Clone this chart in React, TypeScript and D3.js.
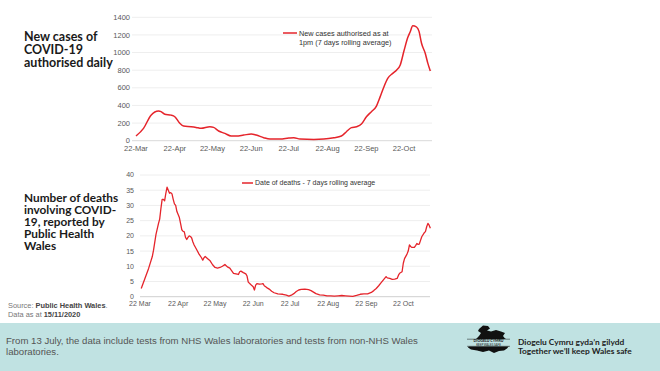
import * as d3 from "d3";

const START = new Date(2020, 2, 22);

// New cases, 7 day rolling average (days after 22 Mar)
const caseDays = [0, 6, 12, 18, 20, 23, 28, 31, 35, 38, 44, 48, 52, 59, 62, 66, 71, 76, 80, 86, 92, 96, 102, 107, 115, 122, 126, 131, 142, 150, 158, 164, 168, 172, 176, 180, 184, 188, 192, 195, 198, 201, 205, 208, 211, 214, 217, 219, 221, 224, 226, 228, 231, 233, 235];
const caseValues = [53, 140, 290, 336, 330, 300, 290, 272, 197, 166, 159, 151, 140, 159, 151, 110, 83, 53, 53, 64, 76, 64, 34, 19, 19, 30, 34, 19, 15, 19, 34, 53, 102, 148, 159, 189, 272, 329, 393, 500, 613, 707, 764, 800, 860, 1020, 1170, 1237, 1305, 1290, 1240, 1105, 990, 880, 791];

// Deaths, 7 day rolling average (days after 22 Mar)
const deathDays = [1, 4, 7, 10, 11, 13, 15, 16, 17, 18, 19, 20, 21, 22, 23, 24, 25, 26, 27, 28, 29, 30, 31, 32, 33, 34, 35, 36, 37, 38, 39, 40, 41, 42, 43, 44, 46, 48, 50, 51, 52, 53, 55, 57, 59, 61, 63, 65, 67, 69, 71, 73, 74, 76, 78, 80, 81, 82, 84, 86, 87, 88, 90, 92, 93, 94, 95, 97, 99, 100, 101, 103, 105, 107, 109, 112, 116, 119, 121, 123, 125, 127, 129, 131, 134, 137, 139, 141, 143, 146, 149, 152, 155, 158, 161, 164, 167, 170, 173, 176, 179, 182, 185, 188, 190, 192, 194, 196, 198, 200, 201, 203, 205, 207, 209, 210, 211, 213, 214, 215, 217, 218, 219, 220, 221, 223, 224, 225, 226, 227, 228, 229, 231, 232, 233, 234, 235, 236];
const deathValues = [2.7, 6.0, 9.3, 13.2, 15.3, 20.5, 24.0, 25.5, 29.0, 32.0, 32.0, 31.5, 34.0, 36.0, 35.0, 34.0, 34.2, 33.8, 32.0, 30.5, 30.0, 28.0, 27.0, 26.0, 24.0, 22.0, 21.5, 21.3, 19.5, 18.8, 19.5, 20.0, 19.8, 19.3, 18.0, 17.0, 15.5, 14.0, 12.8, 12.0, 12.8, 13.2, 12.5, 11.8, 10.5, 9.6, 9.4, 9.6, 10.0, 10.6, 9.8, 9.4, 8.8, 7.7, 7.5, 7.3, 8.2, 8.4, 7.9, 7.5, 6.8, 4.8, 4.0, 3.3, 2.2, 3.8, 4.3, 4.1, 4.2, 4.3, 3.6, 3.0, 2.5, 1.8, 1.3, 0.9, 0.8, 0.5, 0.2, 0.5, 1.0, 1.7, 2.2, 2.4, 2.5, 2.3, 2.0, 1.5, 1.0, 0.6, 0.5, 0.3, 0.3, 0.2, 0.3, 0.4, 0.3, 0.2, 0.1, 0.4, 0.8, 0.9, 0.9, 1.4, 2.0, 2.7, 3.6, 4.6, 5.6, 6.6, 6.2, 6.0, 5.7, 5.8, 6.0, 7.0, 7.7, 8.2, 11.0, 12.5, 14.0, 15.0, 17.0, 16.5, 16.2, 16.2, 16.8, 17.5, 17.2, 17.3, 18.5, 19.7, 21.0, 21.4, 23.0, 24.1, 23.5, 22.5];

const tickDates = [0, 31, 61, 92, 122, 153, 184, 214].map((d) => d3.timeDay.offset(START, d));
const caseTicks = [0, 200, 400, 600, 800, 1000, 1200, 1400];
const deathTicks = [0, 5, 10, 15, 20, 25, 30, 35, 40];

const titleTop = ["New cases of", "COVID-19", "authorised daily"];
const titleBottom = ["Number of deaths", "involving COVID-", "19, reported by", "Public Health", "Wales"];

const RED = "#e5242b";
const AXIS_FONT = "'Liberation Sans', Arial, sans-serif";
const TITLE_FONT = "Lato, 'Noto Sans', sans-serif";
const OCT22 = d3.timeDay.offset(START, 214);

function CasesChart() {
  const x = d3.scaleTime().domain([START, OCT22]).range([136, 404]);
  const y = d3.scaleLinear().domain([0, 1400]).range([140.7, 17.3]);
  const line = d3
    .line<number>()
    .x((d) => x(d3.timeDay.offset(START, d)))
    .y((_, i) => y(caseValues[i]))
    .curve(d3.curveMonotoneX);
  const fmt = d3.timeFormat("%d-%b");
  return (
    <g>
      {caseTicks.map((t) => (
        <g key={t}>
          <line x1={132} x2={432} y1={y(t)} y2={y(t)} stroke={t === 0 ? "#d9d9d9" : "#eeeeee"} strokeWidth={1} />
          <text x={130} y={y(t)} dy="0.35em" textAnchor="end" fontSize={7.5} fill="#595959" fontFamily={AXIS_FONT}>
            {t}
          </text>
        </g>
      ))}
      {tickDates.map((d, i) => (
        <text key={i} x={x(d)} y={148.5} dy="0.35em" textAnchor="middle" fontSize={7.5} fill="#595959" fontFamily={AXIS_FONT}>
          {fmt(d)}
        </text>
      ))}
      <path d={line(caseDays) ?? ""} fill="none" stroke={RED} strokeWidth={1.5} />
      <line x1={283} x2={297} y1={33} y2={33} stroke={RED} strokeWidth={1.5} />
      <text x={299} y={33} dy="0.35em" fontSize={7.3} fill="#333" fontFamily={AXIS_FONT}>
        New cases authorised as at
      </text>
      <text x={299} y={42} dy="0.35em" fontSize={7.3} fill="#333" fontFamily={AXIS_FONT}>
        1pm (7 days rolling average)
      </text>
    </g>
  );
}

function DeathsChart() {
  const x = d3.scaleTime().domain([START, OCT22]).range([140, 403.3]);
  const y = d3.scaleLinear().domain([0, 40]).range([296.7, 175]);
  const line = d3
    .line<number>()
    .x((d) => x(d3.timeDay.offset(START, d)))
    .y((_, i) => y(deathValues[i]));
  const fmt = d3.timeFormat("%d %b");
  return (
    <g>
      <rect x={119} y={160} width={320} height={152} fill="#ffffff" />
      {deathTicks.map((t) => (
        <g key={t}>
          <line x1={140} x2={430} y1={y(t)} y2={y(t)} stroke={t === 0 ? "#cfcfcf" : "#eeeeee"} strokeWidth={1} />
          <text x={134} y={y(t)} dy="0.35em" textAnchor="end" fontSize={7} fill="#595959" fontFamily={AXIS_FONT}>
            {t}
          </text>
        </g>
      ))}
      {tickDates.map((d, i) => (
        <text key={i} x={x(d)} y={303.5} dy="0.35em" textAnchor="middle" fontSize={7} fill="#595959" fontFamily={AXIS_FONT}>
          {fmt(d)}
        </text>
      ))}
      <path d={line(deathDays) ?? ""} fill="none" stroke={RED} strokeWidth={1.3} strokeLinejoin="round" />
      <line x1={242} x2={253} y1={183} y2={183} stroke={RED} strokeWidth={1.5} />
      <text x={255} y={183} dy="0.35em" fontSize={7} fill="#333" fontFamily={AXIS_FONT}>
        Date of deaths - 7 days rolling average
      </text>
    </g>
  );
}

function Logo() {
  const wales =
    "M479,329 L483,325.5 L488,326 L490,328.5 L487,330.5 L491,331.5 L496,330 L501,331.5 L505,333 L503,336 L505,338.5 L509,340 L509,346 L507,348.5 L504,350.5 L499,351 L494,353 L489,350.5 L483,352 L477,350.5 L471,349.5 L468,347.5 L469,345 L473,343 L476,339 L479,336 L481,333 L478,331 Z";
  return (
    <g>
      <path d={wales} fill="#111" />
      <rect x={466.5} y={339} width={44} height={7.5} fill="#c0e2e2" />
      <line x1={467} x2={510} y1={339.2} y2={339.2} stroke="#111" strokeWidth={0.5} />
      <line x1={467} x2={510} y1={346.3} y2={346.3} stroke="#111" strokeWidth={0.5} />
      <text x={488.5} y={342.3} textAnchor="middle" fontSize={3.6} fontWeight={700} fill="#111" fontFamily={TITLE_FONT}>
        DIOGELU CYMRU
      </text>
      <text x={488.5} y={345.6} textAnchor="middle" fontSize={2.9} fill="#111" fontFamily={TITLE_FONT}>
        KEEP WALES SAFE
      </text>
      <text x={518} y={342} dy="0.35em" fontSize={8.4} fontWeight={700} fill="#1d1d1d" fontFamily={TITLE_FONT}>
        Diogelu Cymru gyda’n gilydd
      </text>
      <text x={518} y={351.5} dy="0.35em" fontSize={8.4} fontWeight={700} fill="#1d1d1d" fontFamily={TITLE_FONT}>
        Together we’ll keep Wales safe
      </text>
    </g>
  );
}

export default function App() {
  return (
    <svg
      width={660}
      height={371}
      style={{ position: "absolute", left: 0, top: 0, background: "#ffffff" }}
    >
      {titleTop.map((s, i) => (
        <text key={s} x={24} y={40.5 + i * 13.3} fontSize={12.5} fontWeight={700} fill="#1a1a1a" fontFamily={TITLE_FONT}>
          {s}
        </text>
      ))}
      {titleBottom.map((s, i) => (
        <text key={s} x={24} y={202 + i * 12} fontSize={11.8} fontWeight={700} fill="#1a1a1a" fontFamily={TITLE_FONT}>
          {s}
        </text>
      ))}
      <CasesChart />
      <DeathsChart />
      <text x={8} y={305} dy="0.35em" fontSize={7.4} fill="#777" fontFamily={AXIS_FONT}>
        Source: <tspan fontWeight={700} fill="#444">Public Health Wales</tspan>.
      </text>
      <text x={8} y={314} dy="0.35em" fontSize={7.4} fill="#777" fontFamily={AXIS_FONT}>
        Data as at <tspan fontWeight={700} fill="#444">15/11/2020</tspan>
      </text>
      <rect x={0} y={323} width={660} height={48} fill="#c0e2e2" />
      <text x={6} y={340.7} dy="0.35em" fontSize={9.6} fill="#555" fontFamily={AXIS_FONT}>
        From 13 July, the data include tests from NHS Wales laboratories and tests from non-NHS Wales
      </text>
      <text x={6} y={351.5} dy="0.35em" fontSize={9.6} fill="#555" fontFamily={AXIS_FONT}>
        laboratories.
      </text>
      <Logo />
    </svg>
  );
}
